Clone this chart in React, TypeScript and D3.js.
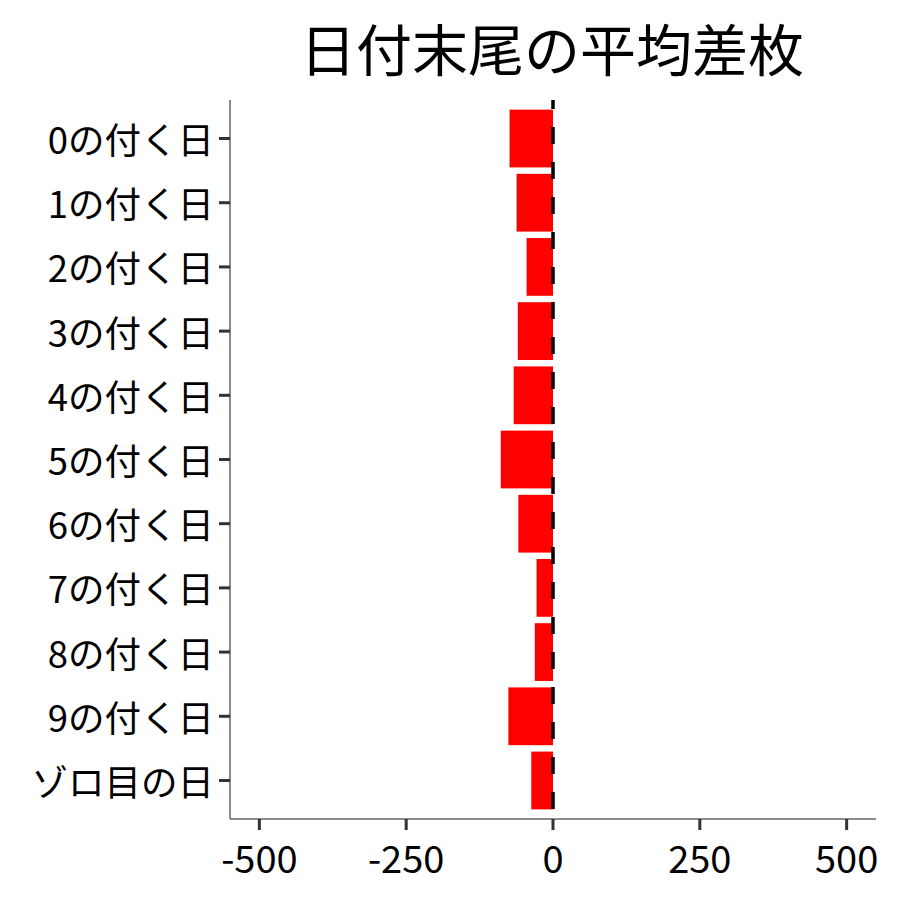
import React from "react";
import * as d3 from "d3";

const categories = [
  "0の付く日", "1の付く日", "2の付く日", "3の付く日", "4の付く日",
  "5の付く日", "6の付く日", "7の付く日", "8の付く日", "9の付く日", "ゾロ目の日",
];
const values = [-74, -62, -45, -60, -67, -89, -59, -28, -31, -76, -37];
const xTicks = [-500, -250, 0, 250, 500];
const title = "日付末尾の平均差枚";

const W = 900;
const H = 900;
const left = 230;
const right = 876;
const top = 100;
const bottom = 819;
const FONT = "'Noto Sans CJK JP', 'Noto Sans', sans-serif";

export default function App() {
  const x = d3.scaleLinear().domain([-550, 550]).range([left, right]);
  const y = d3
    .scaleBand<string>()
    .domain(categories)
    .range([top, bottom])
    .paddingInner(0.1)
    .paddingOuter(0.15);

  return (
    <svg
      width={W}
      height={H}
      style={{ position: "absolute", left: 0, top: 0, background: "#fff" }}
      fontFamily={FONT}
    >
      <rect x={0} y={0} width={W} height={H} fill="#fff" />
      <text
        x={(left + right) / 2 - 1}
        y={46}
        textAnchor="middle"
        dominantBaseline="central"
        fontSize={56}
        fill="#000"
      >
        {title}
      </text>

      {categories.map((c, i) => {
        const v = values[i];
        const x0 = x(Math.min(0, v));
        const x1 = x(Math.max(0, v));
        return (
          <rect
            key={c}
            x={x0}
            y={y(c)!}
            width={x1 - x0}
            height={y.bandwidth()}
            fill="#ff0000"
          />
        );
      })}

      <line
        x1={x(0)}
        x2={x(0)}
        y1={top}
        y2={bottom}
        stroke="#000"
        strokeWidth={3.5}
        strokeDasharray="17,18"
        strokeDashoffset={8}
      />

      {/* axes */}
      <line x1={left} x2={left} y1={top} y2={bottom} stroke="#666" strokeWidth={1.5} />
      <line x1={left} x2={right} y1={bottom} y2={bottom} stroke="#666" strokeWidth={1.5} />

      {categories.map((c) => {
        const cy = y(c)! + y.bandwidth() / 2;
        return (
          <g key={"yt" + c}>
            <line x1={left - 11} x2={left} y1={cy} y2={cy} stroke="#333" strokeWidth={3} />
            <text
              x={left - 16}
              y={cy}
              textAnchor="end"
              dominantBaseline="central"
              fontSize={36.5}
              fill="#000"
            >
              {c}
            </text>
          </g>
        );
      })}

      {xTicks.map((t) => (
        <g key={"xt" + t}>
          <line x1={x(t)} x2={x(t)} y1={bottom} y2={bottom + 11} stroke="#333" strokeWidth={3} />
          <text
            x={x(t)}
            y={856}
            textAnchor="middle"
            dominantBaseline="central"
            fontSize={38}
            fill="#000"
          >
            {t}
          </text>
        </g>
      ))}
    </svg>
  );
}
